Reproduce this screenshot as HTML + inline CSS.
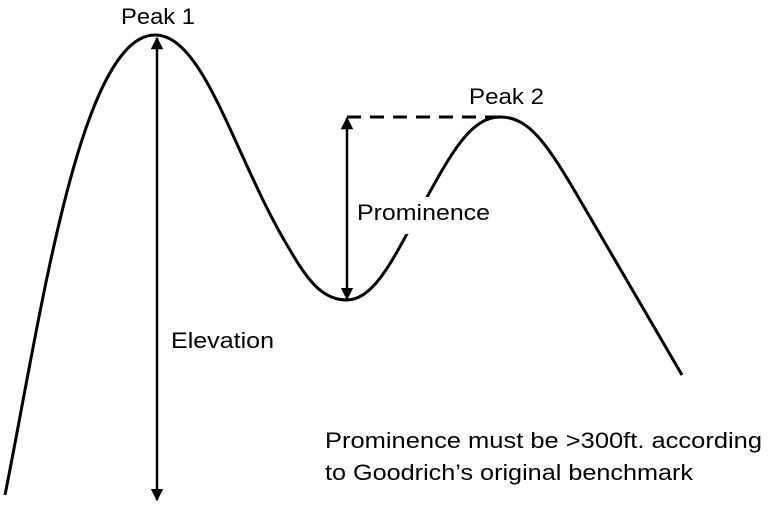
<!DOCTYPE html>
<html><head><style>
html,body{margin:0;padding:0;background:#fff;}
svg{display:block;}
text{font-family:"Liberation Sans Narrow","Liberation Sans",sans-serif;font-size:22px;fill:#000;}
</style></head><body>
<svg width="768" height="506" viewBox="0 0 768 506" xmlns="http://www.w3.org/2000/svg">
<defs>
<marker id="a" viewBox="0 0 10 10" refX="9" refY="5" markerWidth="5" markerHeight="5" orient="auto-start-reverse"><path d="M0,0 L10,5 L0,10 z" fill="#000"/></marker>
</defs>
<path d="M5,495 C40,320 80,35 155,35 C205,35 235,160 290,250 C310,285 325,300 347,300 C375,300 395,255 420,210 C450,155 470,117 500,117 C528,117 545,140 580,200 L682,375" fill="none" stroke="#000" stroke-width="3"/>
<rect x="402" y="197" width="30" height="37" fill="#fff"/>
<line x1="157" y1="38" x2="157" y2="500" stroke="#000" stroke-width="2.5" marker-start="url(#a)" marker-end="url(#a)"/>
<line x1="347" y1="118" x2="347" y2="299" stroke="#000" stroke-width="2.5" marker-start="url(#a)" marker-end="url(#a)"/>
<line x1="347" y1="117" x2="500" y2="117" stroke="#000" stroke-width="3" stroke-dasharray="14,9"/>
<text x="121" y="24" textLength="74" lengthAdjust="spacingAndGlyphs">Peak 1</text>
<text x="469" y="104" textLength="75" lengthAdjust="spacingAndGlyphs">Peak 2</text>
<text x="357" y="220" textLength="133" lengthAdjust="spacingAndGlyphs">Prominence</text>
<text x="171" y="348" textLength="103" lengthAdjust="spacingAndGlyphs">Elevation</text>
<text x="325" y="448" textLength="437" lengthAdjust="spacingAndGlyphs">Prominence must be &gt;300ft. according</text>
<text x="325" y="480" textLength="368" lengthAdjust="spacingAndGlyphs">to Goodrich’s original benchmark</text>
</svg>
</body></html>
